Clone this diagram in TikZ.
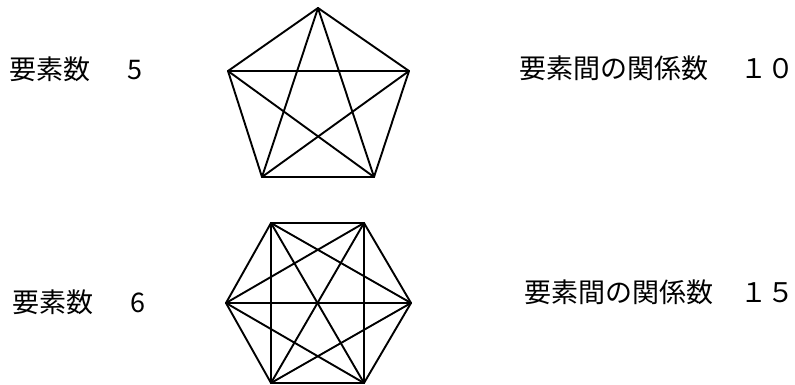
\documentclass[tikz,border=0pt]{standalone}
\usepackage{fontspec}
\setmainfont{Noto Sans CJK JP}
\begin{document}
\begin{tikzpicture}[x=1pt,y=-1pt,
  edge/.style={line width=1.9pt,line join=round,line cap=round},
  lbl/.style={anchor=base west,inner sep=0pt,font=\fontsize{27}{32}\selectfont}]
\useasboundingbox (0,0) rectangle (795,385);
% pentagon vertices
\coordinate (p1) at (318,8);
\coordinate (p2) at (409,71);
\coordinate (p3) at (374,177);
\coordinate (p4) at (262,177);
\coordinate (p5) at (228,71);
\foreach \a/\b in {1/2,1/3,1/4,1/5,2/3,2/4,2/5,3/4,3/5,4/5}
  \draw[edge] (p\a) -- (p\b);
% hexagon vertices
\coordinate (h1) at (271,223);
\coordinate (h2) at (364,223);
\coordinate (h3) at (411,303);
\coordinate (h4) at (364,383);
\coordinate (h5) at (271,383);
\coordinate (h6) at (226,303);
\foreach \a/\b in {1/2,1/3,1/4,1/5,1/6,2/3,2/4,2/5,2/6,3/4,3/5,3/6,4/5,4/6,5/6}
  \draw[edge] (h\a) -- (h\b);
% labels
\node[lbl] (n5) at (9,80) {要素数\hspace{37pt}5};
\node[lbl] (r10) at (519,79) {要素間の関係数　\hspace{5.5pt}１０};
\node[lbl] (n6) at (12,312) {要素数\hspace{37pt}6};
\node[lbl] (r15) at (524.5,302) {要素間の関係数　１５};
\end{tikzpicture}
\end{document}
